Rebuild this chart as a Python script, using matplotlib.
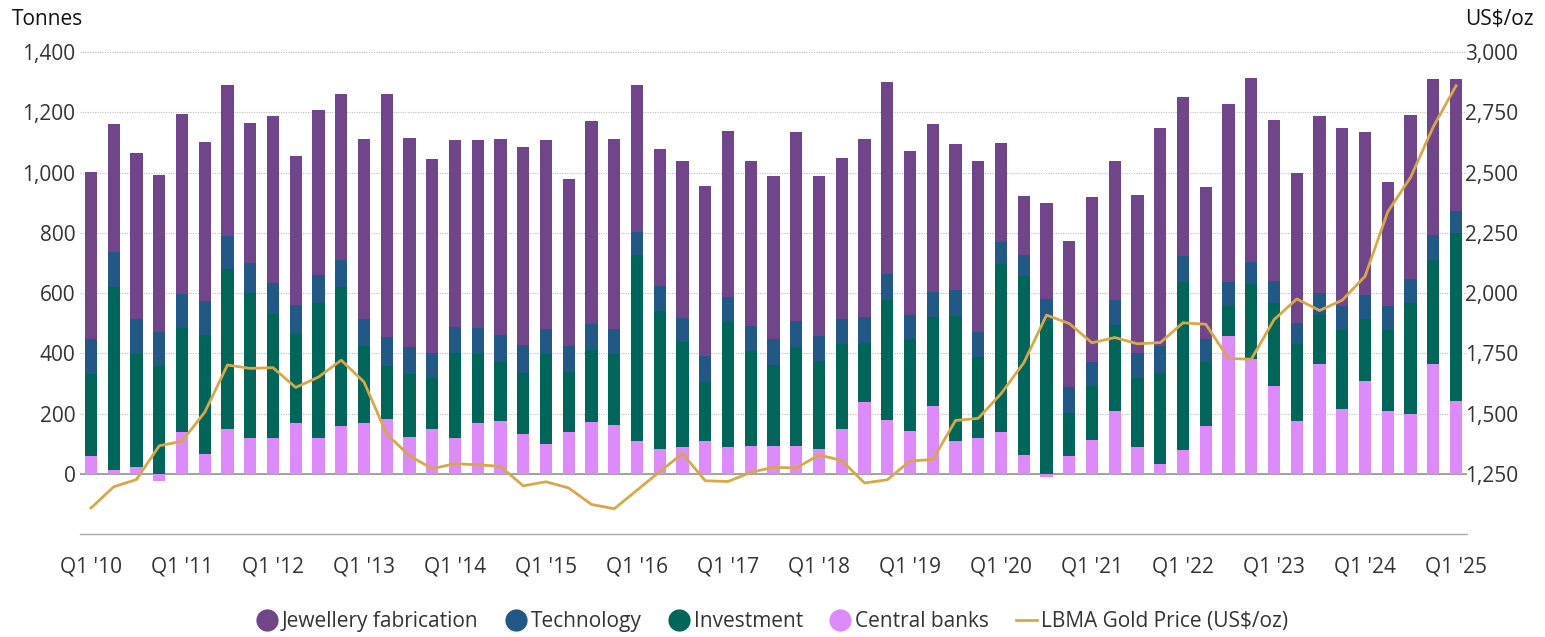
import matplotlib
matplotlib.use("Agg")
import matplotlib.pyplot as plt
from matplotlib.lines import Line2D
import numpy as np

plt.rcParams['font.family'] = ['Open Sans', 'DejaVu Sans']

# Quarterly gold demand by sector (tonnes), Q1 2010 - Q1 2025
central_banks = [59, 12, 22, -22, 141, 67, 148, 118, 121, 168, 118, 158,
                 168, 182, 124, 148, 118, 168, 176, 134, 101, 141, 172, 161,
                 111, 83, 88, 111, 91, 94, 94, 94, 83, 151, 240, 179,
                 144, 226, 111, 118, 141, 63, -11, 60, 114, 210, 91, 33,
                 81, 158, 458, 382, 291, 176, 366, 216, 308, 209, 199, 366,
                 243]
investment = [274, 608, 375, 359, 345, 394, 531, 482, 411, 296, 448, 462,
              256, 177, 208, 171, 285, 229, 194, 202, 296, 198, 241, 236,
              615, 459, 350, 195, 413, 313, 269, 327, 293, 279, 193, 399,
              303, 295, 413, 269, 555, 595, 507, 143, 178, 284, 228, 303,
              557, 212, 98, 249, 275, 254, 160, 262, 206, 269, 367, 343,
              555]
technology = [115, 117, 117, 112, 111, 112, 112, 99, 102, 98, 94, 91,
              90, 95, 89, 84, 85, 89, 91, 91, 84, 85, 85, 84,
              78, 82, 81, 85, 83, 85, 85, 87, 82, 84, 88, 86,
              81, 83, 87, 84, 74, 68, 75, 85, 81, 84, 84, 88,
              84, 78, 82, 71, 75, 71, 74, 81, 80, 81, 82, 85,
              76]
jewellery = [553, 423, 550, 522, 596, 529, 501, 464, 553, 492, 547, 551,
             598, 805, 695, 643, 619, 621, 651, 659, 626, 553, 672, 631,
             485, 454, 518, 565, 550, 545, 539, 625, 531, 533, 590, 635,
             543, 556, 483, 566, 328, 196, 316, 484, 547, 460, 523, 723,
             527, 503, 591, 611, 532, 499, 587, 588, 539, 411, 542, 518,
             435]
# LBMA Gold Price, quarterly average (US$/oz)
gold_price = [1109, 1197, 1227, 1367, 1386, 1506, 1702, 1688, 1691, 1609,
              1652, 1722, 1632, 1415, 1326, 1272, 1293, 1288, 1282, 1201,
              1218, 1192, 1124, 1106, 1183, 1260, 1335, 1222, 1219, 1257,
              1278, 1275, 1329, 1306, 1213, 1226, 1304, 1310, 1472, 1481,
              1583, 1711, 1909, 1874, 1794, 1816, 1790, 1795, 1877, 1871,
              1729, 1726, 1890, 1976, 1928, 1971, 2070, 2338, 2480, 2690,
              2860]
year_labels = ["Q1 '10", "Q1 '11", "Q1 '12", "Q1 '13", "Q1 '14", "Q1 '15",
               "Q1 '16", "Q1 '17", "Q1 '18", "Q1 '19", "Q1 '20", "Q1 '21",
               "Q1 '22", "Q1 '23", "Q1 '24", "Q1 '25"]

C_JEW = "#704589"
C_TECH = "#225886"
C_INV = "#00665A"
C_CB = "#DD8BFB"
C_GOLD = "#D6A84A"
TXT = "#333333"
FS = 15

x = np.arange(len(central_banks))
cb = np.array(central_banks, dtype=float)
inv = np.array(investment, dtype=float)
tech = np.array(technology, dtype=float)
jew = np.array(jewellery, dtype=float)

fig = plt.figure(figsize=(15.45, 6.37), dpi=100)
ax = fig.add_axes([0.0515, 0.1612, 0.8983, 0.7572])
ax2 = ax.twinx()

w = 0.54
base = np.clip(cb, 0, None)
ax.bar(x, cb, width=w, color=C_CB, zorder=3, linewidth=0)
ax.bar(x, inv, width=w, bottom=base, color=C_INV, zorder=3, linewidth=0)
ax.bar(x, tech, width=w, bottom=base + inv, color=C_TECH, zorder=3, linewidth=0)
ax.bar(x, jew, width=w, bottom=base + inv + tech, color=C_JEW, zorder=3, linewidth=0)

ax2.plot(x, gold_price, color=C_GOLD, linewidth=2.0, zorder=5,
         solid_joinstyle='round')

ax.set_xlim(-0.5, 60.5)
ax.set_ylim(-200, 1400)
ax2.set_ylim(1000, 3000)

ax.set_yticks(np.arange(0, 1401, 200))
ax.set_yticklabels([f"{v:,}" for v in range(0, 1401, 200)])
ax2.set_yticks(np.arange(1250, 3001, 250))
ax2.set_yticklabels([f"{v:,}" for v in range(1250, 3001, 250)])
ax.set_xticks(np.arange(0, 61, 4))
ax.set_xticklabels(year_labels)

for a in (ax, ax2):
    for s in ("top", "left", "right", "bottom"):
        a.spines[s].set_visible(False)
ax.spines["bottom"].set_visible(True)
ax.spines["bottom"].set_color("#AAAAAA")
ax.spines["bottom"].set_linewidth(1.0)

ax.tick_params(axis='both', length=0, labelsize=FS, colors=TXT)
ax.tick_params(axis='x', pad=16)
ax.tick_params(axis='y', pad=3)
ax2.tick_params(axis='y', length=0, labelsize=FS, colors=TXT, pad=-2)

for v in range(200, 1401, 200):
    ax.axhline(v, color="#BDBDBD", linewidth=0.8, linestyle=(0, (1, 1.2)), zorder=1)
ax.axhline(0, color="#9A9A9A", linewidth=1.3, zorder=2)

ax.set_zorder(ax2.get_zorder() - 1)
ax.patch.set_visible(False)

fig.text(0.008, 0.97, "Tonnes", fontsize=FS, color="#111111", ha="left", va="center")
fig.text(0.9925, 0.97, "US$/oz", fontsize=FS, color="#111111", ha="right", va="center")

handles = [
    Line2D([], [], marker='o', linestyle='None', markersize=15, color=C_JEW),
    Line2D([], [], marker='o', linestyle='None', markersize=15, color=C_TECH),
    Line2D([], [], marker='o', linestyle='None', markersize=15, color=C_INV),
    Line2D([], [], marker='o', linestyle='None', markersize=15, color=C_CB),
    Line2D([], [], color=C_GOLD, linewidth=2.0),
]
labels = ["Jewellery fabrication", "Technology", "Investment", "Central banks",
          "LBMA Gold Price (US$/oz)"]
leg = fig.legend(handles, labels, loc="center", bbox_to_anchor=(0.5, 0.024),
                 ncol=5, frameon=False, fontsize=FS, handlelength=1.0,
                 handletextpad=0.2, columnspacing=1.3, labelcolor=TXT)

fig.savefig("out.png", dpi=100)
